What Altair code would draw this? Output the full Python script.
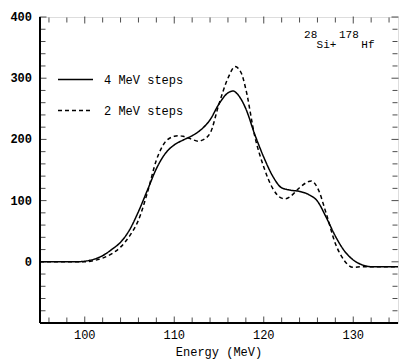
import altair as alt
import pandas as pd

# ---- data ----
series_names = ["4 MeV steps", "2 MeV steps"]

energy_4 = [95, 96, 97, 98, 99, 100, 101, 102, 103, 104, 105, 106, 107, 108, 109,
            110, 111, 112, 113, 114, 115, 116, 116.6, 117, 118, 119, 120, 121, 122,
            123, 124, 125, 126, 127, 128, 129, 130, 131, 132, 133, 134, 135]
counts_4 = [0, 0, 0, 0, 0, 1, 4, 10, 20, 32, 52, 82, 117, 152, 177,
            191, 199, 206, 216, 232, 258, 276, 279, 275, 250, 208, 171, 140, 121,
            117, 115, 110, 99, 72, 42, 18, 3, -5, -8, -8, -8, -8]

energy_2 = [95, 96, 97, 98, 99, 100, 101, 102, 103, 104, 105, 106, 107, 108, 109,
            110, 110.5, 111, 112, 112.7, 113, 114, 115, 116, 116.8, 117.5, 118, 119,
            120, 121, 122, 122.4, 123, 124, 125, 125.3, 126, 127, 128, 129, 129.5,
            130, 131, 132, 133, 134, 135]
counts_2 = [0, 0, 0, 0, 0, 0, 2, 6, 13, 24, 42, 68, 113, 166, 196,
            205, 206, 205, 200, 197, 198, 210, 258, 300, 319, 308, 282, 205,
            155, 120, 104, 103, 107, 121, 131, 132, 121, 78, 30, 2, -6,
            -9, -8, -8, -8, -8, -8]

x_ticks = list(range(96, 136, 2))
x_major_ticks = [100, 110, 120, 130]
y_ticks = list(range(-80, 401, 20))
y_major_ticks = [0, 100, 200, 300, 400]
x_title = ["Energy (MeV)"]

annot_text = ["28", "Si+", "178", "Hf"]
annot_energy = [124.5, 125.9, 128.4, 130.9]
annot_value = [366, 350, 366, 350]

# ---- tables ----
df = pd.concat([
    pd.DataFrame({"E": energy_4, "v": counts_4, "s": series_names[0]}),
    pd.DataFrame({"E": energy_2, "v": counts_2, "s": series_names[1]}),
])
ann = pd.DataFrame({"t": annot_text, "E": annot_energy, "v": annot_value})
xt = pd.DataFrame({"E": x_ticks,
                   "tl": [7 if e in x_major_ticks else 5 for e in x_ticks]})
yt = pd.DataFrame({"v": y_ticks,
                   "tl": [7 if v in y_major_ticks else 5 for v in y_ticks]})

W, H = 358, 306
FONT = "Liberation Mono"
xs = alt.Scale(domain=[95, 135], nice=False, zero=False)
ys = alt.Scale(domain=[-100, 400], nice=False, zero=False)


def xenc():
    return alt.X("E:Q", scale=xs, axis=None)


def yenc():
    return alt.Y("v:Q", scale=ys, axis=None)


lines = alt.Chart(df).mark_line(interpolate="monotone", strokeWidth=1.5, color="black").encode(
    x=xenc(),
    y=yenc(),
    strokeDash=alt.StrokeDash("s:N", scale=alt.Scale(domain=series_names, range=[[1, 0], [4, 3]]),
                              legend=alt.Legend(title=None, orient="none", legendX=17, legendY=44,
                                                symbolType="stroke", symbolSize=1225,
                                                symbolStrokeColor="black", symbolStrokeWidth=1.3,
                                                labelFont=FONT, labelFontSize=12, labelColor="black",
                                                labelOffset=10, rowPadding=6)),
    detail="s:N",
)

# inward ticks on all four sides
tick_x_top = alt.Chart(xt).mark_tick(color="black", thickness=1, orient="vertical").encode(
    x=xenc(), y=alt.value(3),
    size=alt.Size("tl:Q", scale=None, legend=None))
tick_x_bottom = alt.Chart(xt).mark_tick(color="black", thickness=1, orient="vertical").encode(
    x=xenc(), y=alt.value(H - 3),
    size=alt.Size("tl:Q", scale=None, legend=None))
tick_y_left = alt.Chart(yt).mark_tick(color="black", thickness=1, orient="horizontal").encode(
    y=yenc(), x=alt.value(3),
    size=alt.Size("tl:Q", scale=None, legend=None))
tick_y_right = alt.Chart(yt).mark_tick(color="black", thickness=1, orient="horizontal").encode(
    y=yenc(), x=alt.value(W - 3),
    size=alt.Size("tl:Q", scale=None, legend=None))

# thick left and bottom axis lines
left_line = alt.Chart(pd.DataFrame({"k": [0]})).mark_rule(color="black", strokeWidth=2).encode(
    x=alt.value(0), y=alt.value(0), y2=alt.value(H))
bottom_line = alt.Chart(pd.DataFrame({"k": [1]})).mark_rule(color="black", strokeWidth=2).encode(
    x=alt.value(0), x2=alt.value(W), y=alt.value(H))

# tick labels and axis title as text
x_labels = alt.Chart(pd.DataFrame({"E": x_major_ticks})).mark_text(
    baseline="top", font=FONT, fontSize=12, color="black").encode(
    x=xenc(), y=alt.value(H + 7), text=alt.Text("E:Q", format="d"))
y_labels = alt.Chart(pd.DataFrame({"v": y_major_ticks})).mark_text(
    align="right", baseline="middle", font=FONT, fontSize=12, fontWeight="bold",
    color="black").encode(
    y=yenc(), x=alt.value(-8), text=alt.Text("v:Q", format="d"))
title = alt.Chart(pd.DataFrame({"t": x_title})).mark_text(
    align="center", baseline="middle", font=FONT, fontSize=12, color="black").encode(
    x=alt.value(W / 2), y=alt.value(H + 29), text="t:N")

labels = alt.Chart(ann).mark_text(align="left", baseline="alphabetic", font=FONT,
                                  fontSize=11, color="black").encode(
    x=xenc(), y=yenc(), text="t:N")

chart = alt.layer(lines, tick_x_top, tick_x_bottom, tick_y_left, tick_y_right,
                  left_line, bottom_line, x_labels, y_labels, title, labels).properties(
    width=W, height=H,
    autosize=alt.AutoSizeParams(type="none"),
    padding={"left": 40, "top": 17, "right": 2, "bottom": 38},
).configure_view(stroke="black", strokeWidth=1).configure(background="white")

chart.save("out.html", embed_options={"renderer": "svg", "actions": False})
